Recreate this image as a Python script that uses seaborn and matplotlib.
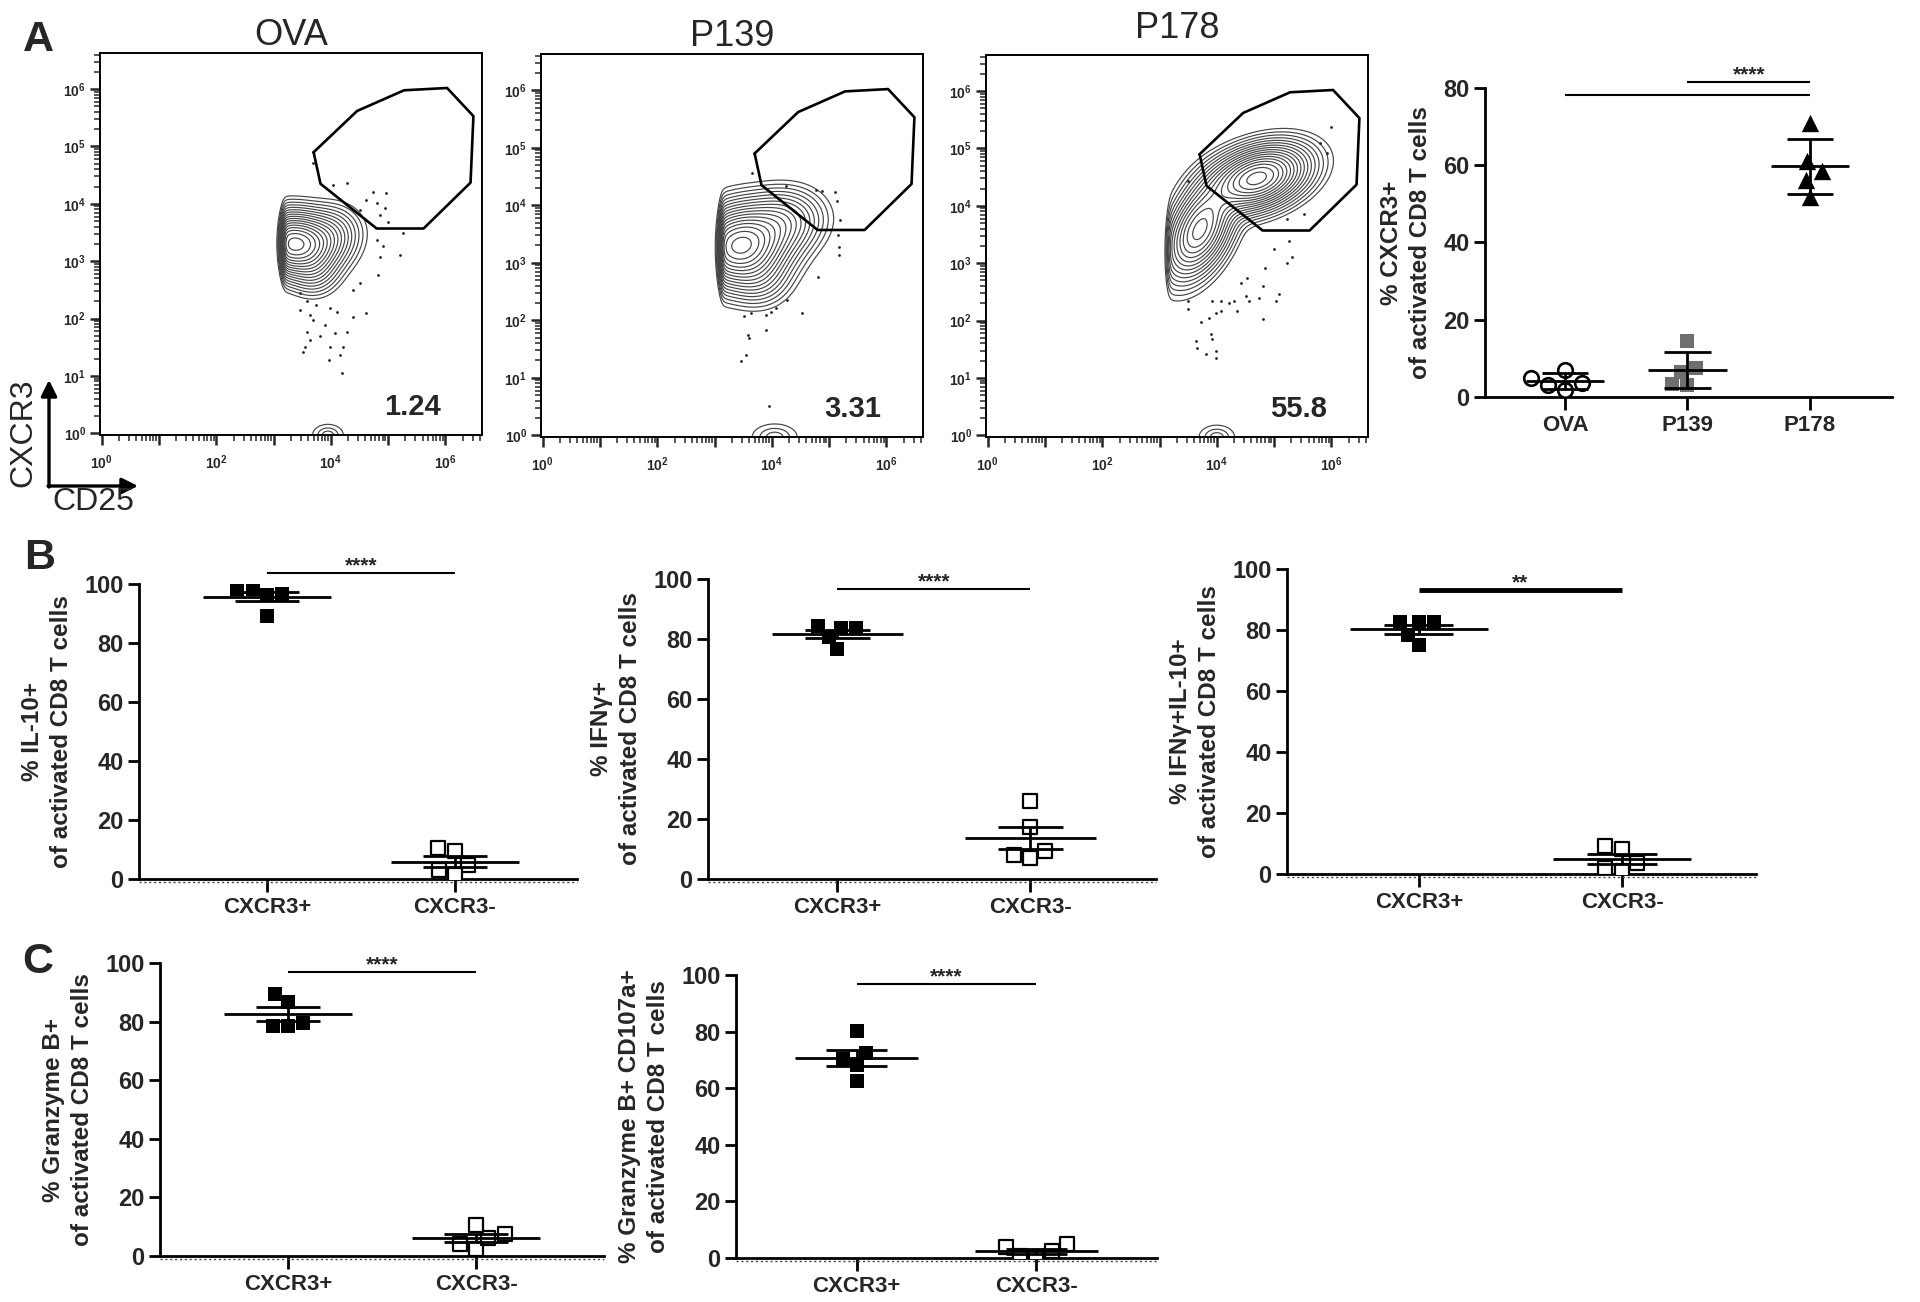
import numpy as np
import pandas as pd
import matplotlib
matplotlib.use("Agg")
import matplotlib.pyplot as plt
import matplotlib.transforms as mtransforms
from matplotlib.ticker import FixedLocator, NullFormatter
import seaborn as sns

sns.set_style("ticks")
plt.rcParams["font.family"] = ["Liberation Sans", "DejaVu Sans"]
plt.rcParams["mathtext.fontset"] = "custom"
plt.rcParams["mathtext.rm"] = "Liberation Sans"
plt.rcParams["mathtext.it"] = "Liberation Sans:italic"
plt.rcParams["mathtext.bf"] = "Liberation Sans:bold"

# ---------------- data ----------------
flow_samples = ["OVA", "P139", "P178"]
gate_pct = ["1.24", "3.31", "55.8"]
gate_log_x = [3.70, 4.46, 5.28, 6.03, 6.49, 6.44, 5.62, 4.80, 3.82]
gate_log_y = [4.90, 5.62, 5.98, 6.02, 5.53, 4.37, 3.57, 3.57, 4.35]

# populations (log10 units): centre x, centre y, sd x, sd y, correlation, weight
ova_cx, ova_cy = [3.36, 3.95, 3.70], [3.30, 3.45, 2.85]
ova_sx, ova_sy = [0.36, 0.28, 0.22], [0.27, 0.25, 0.22]
ova_rho, ova_w = [-0.05, 0.1, 0.0], [1.0, 0.14, 0.10]
ova_cut = 3.17
p139_cx, p139_cy = [3.45, 4.15, 3.75], [3.30, 3.70, 2.75]
p139_sx, p139_sy = [0.42, 0.36, 0.28], [0.34, 0.28, 0.25]
p139_rho, p139_w = [0.1, 0.1, 0.0], [1.0, 0.22, 0.10]
p139_cut = 3.12
p178_cx, p178_cy = [3.70, 4.70], [3.58, 4.48]
p178_sx, p178_sy = [0.30, 0.43], [0.42, 0.28]
p178_rho, p178_w = [0.45, 0.35], [0.62, 1.0]
p178_cut = 3.15
# small population on the bottom edge: centre x, sd x, sd y
low_cx = [3.95, 4.05, 4.00]
low_sx = [0.13, 0.19, 0.15]
low_sy = [0.09, 0.11, 0.10]

ova_dots_x = [4.04, 4.28, 4.74, 4.97, 4.62, 4.80, 4.94, 4.51, 4.86, 5.00, 5.26, 4.80, 4.92, 4.86, 5.21,
              4.83, 4.51, 4.39, 3.46, 3.58, 3.75, 3.98, 3.46, 4.10, 3.64, 4.62, 4.39, 3.69, 3.90, 4.07,
              3.58, 4.28, 3.64, 3.81, 3.98, 3.55, 3.52, 4.22, 4.16, 3.96, 4.19, 3.69]
ova_dots_y = [4.33, 4.37, 4.20, 4.19, 4.07, 4.01, 3.92, 3.90, 3.81, 3.69, 3.49, 3.37, 3.26, 3.08, 3.11,
              2.76, 2.62, 2.50, 2.44, 2.30, 2.24, 2.18, 2.15, 2.12, 2.06, 2.09, 2.03, 1.98, 1.89, 1.74,
              1.77, 1.77, 1.63, 1.69, 1.51, 1.51, 1.42, 1.51, 1.37, 1.28, 1.05, 4.71]
p139_dots_x = [3.66, 4.24, 4.77, 4.88, 5.10, 5.13, 5.19, 5.16, 5.17, 5.17, 4.80, 4.27, 4.07, 3.98, 3.90,
               3.63, 3.52, 4.53, 3.58, 3.60, 3.90, 3.55, 3.47, 3.95]
p139_dots_y = [4.56, 4.33, 4.27, 4.24, 4.23, 4.07, 3.75, 3.49, 3.28, 3.14, 2.76, 2.35, 2.21, 2.15, 2.09,
               2.12, 2.08, 2.12, 1.74, 1.70, 1.83, 1.40, 1.30, 0.51]
p178_dots_x = [5.99, 5.81, 5.93, 5.52, 5.23, 5.26, 5.00, 5.32, 5.23, 4.85, 4.53, 4.42, 4.80, 4.51, 4.74,
               5.09, 5.03, 4.56, 4.30, 4.22, 4.07, 3.92, 4.36, 4.07, 3.98, 3.50, 3.50, 4.80, 3.72, 3.87,
               3.90, 3.92, 3.63, 3.66, 3.81, 3.98, 3.98, 3.49]
p178_dots_y = [5.38, 5.10, 4.93, 3.85, 3.77, 3.39, 3.24, 3.10, 3.01, 2.92, 2.75, 2.66, 2.60, 2.43, 2.40,
               2.46, 2.34, 2.34, 2.34, 2.31, 2.34, 2.34, 2.17, 2.17, 2.14, 2.34, 2.21, 2.03, 1.97, 2.05,
               1.76, 1.67, 1.65, 1.53, 1.41, 1.47, 1.34, 4.44]

a_groups = ["OVA", "P139", "P178"]
a_ova = [7.1, 1.9, 4.9, 3.2, 3.6]
a_p139 = [14.4, 6.6, 3.2, 7.5, 3.3]
a_p178 = [70.9, 61.0, 58.4, 56.3, 51.9]

bc_groups = ["CXCR3+", "CXCR3-"]
il10_pos, il10_neg = [98.3, 96.6, 96.4, 98.3, 89.2], [10.5, 9.4, 4.9, 3.2, 1.5]
ifng_pos, ifng_neg = [84.2, 83.6, 83.6, 80.6, 76.6], [26.1, 17.5, 9.5, 6.9, 8.0]
dbl_pos, dbl_neg = [82.6, 82.6, 82.6, 78.5, 75.2], [9.1, 8.3, 3.6, 2.0, 0.9]
gzmb_pos, gzmb_neg = [89.5, 86.7, 78.5, 79.6, 78.5], [7.6, 2.5, 6.3, 10.5, 4.2]
cd107_pos, cd107_neg = [80.3, 70.3, 72.3, 68.2, 62.5], [4.8, 4.0, 0.2, 0.6, 2.4]

# ---------------- figure ----------------
W, H = 1920, 1302
fig = plt.figure(figsize=(W / 100, H / 100), dpi=100)


def rect(l, t, r, b):
    return [l / W, 1 - b / H, (r - l) / W, (b - t) / H]


gx = np.linspace(-0.3, 6.9, 480)
gy = np.linspace(-0.4, 6.9, 480)
GX, GY = np.meshgrid(gx, gy)


def gauss(cx, cy, sx, sy, rho):
    dx = (GX - cx) / sx
    dy = (GY - cy) / sy
    return np.exp(-(dx ** 2 - 2 * rho * dx * dy + dy ** 2) / (2 * (1 - rho ** 2)))


flow_rects = [rect(100, 53, 482, 435), rect(541, 54, 923, 437), rect(986, 55, 1368, 437)]
pops = [
    (ova_cx, ova_cy, ova_sx, ova_sy, ova_rho, ova_w, ova_cut, ova_dots_x, ova_dots_y),
    (p139_cx, p139_cy, p139_sx, p139_sy, p139_rho, p139_w, p139_cut, p139_dots_x, p139_dots_y),
    (p178_cx, p178_cy, p178_sx, p178_sy, p178_rho, p178_w, p178_cut, p178_dots_x, p178_dots_y),
]
title_pads = [5.0, 5.5, 12.0]
major = [10.0 ** k for k in range(7)]
minor = [m * 10.0 ** k for k in range(7) for m in range(2, 10) if m * 10.0 ** k < 10 ** 6.64]

for i, (r, p) in enumerate(zip(flow_rects, pops)):
    ax = fig.add_axes(r)
    cx, cy, sx, sy, rho, w, cut, dxs, dys = p
    Z = sum(wk * gauss(a, b, c, d, e) for a, b, c, d, e, wk in zip(cx, cy, sx, sy, rho, w))
    Z = Z / (1 + np.exp(-(GX - cut) / 0.025))
    levels = Z.max() * np.linspace(0.2, 0.975, 17) ** 3
    ax.contour(10 ** GX, 10 ** GY, Z, levels=levels, colors="#454545", linewidths=0.85)
    Zb = gauss(low_cx[i], -0.03, low_sx[i], low_sy[i], 0.0)
    ax.contour(10 ** GX, 10 ** GY, Zb, levels=[0.12, 0.4, 0.75], colors="#454545", linewidths=0.85)
    ax.scatter(10 ** np.array(dxs), 10 ** np.array(dys), s=4, c="#222222", linewidths=0, zorder=3)
    ax.plot(10 ** np.r_[gate_log_x, gate_log_x[0]], 10 ** np.r_[gate_log_y, gate_log_y[0]],
            color="black", lw=1.9, zorder=4)
    ax.text(10 ** 5.42, 10 ** 0.46, gate_pct[i], ha="center", va="center", fontsize=21, fontweight="bold")
    ax.set_xscale("log")
    ax.set_yscale("log")
    ax.set_xlim(10 ** -0.03, 10 ** 6.64)
    ax.set_ylim(10 ** -0.03, 10 ** 6.63)
    for axis in (ax.xaxis, ax.yaxis):
        axis.set_major_locator(FixedLocator(major))
        axis.set_minor_locator(FixedLocator(minor))
        axis.set_minor_formatter(NullFormatter())
    ax.set_xticklabels([rf"$\mathbf{{10^{{{k}}}}}$" if k % 2 == 0 else "" for k in range(7)])
    ax.set_yticklabels([rf"$\mathbf{{10^{{{k}}}}}$" for k in range(7)])
    ax.tick_params(which="major", length=7, width=1.8, labelsize=10, pad=3, direction="out")
    ax.tick_params(which="minor", length=4, width=1.1, direction="out")
    ax.tick_params(axis="x", which="major", pad=6)
    for s in ax.spines.values():
        s.set_linewidth(1.4)
        s.set_color("black")
    ax.set_title(flow_samples[i], fontsize=26, pad=title_pads[i])

# axis labels with arrows
fig.text(38 / W, 1 - 40 / H, "A", fontsize=31, fontweight="bold", ha="center", va="center")
fig.text(40 / W, 1 - 558 / H, "B", fontsize=31, fontweight="bold", ha="center", va="center")
fig.text(38 / W, 1 - 962 / H, "C", fontsize=31, fontweight="bold", ha="center", va="center")
arrow_kw = dict(arrowstyle="-|>", lw=2.4, color="black", mutation_scale=24, shrinkA=0, shrinkB=0)
fig.add_artist(matplotlib.patches.FancyArrowPatch((49 / W, 1 - 487 / H), (49 / W, 1 - 380 / H),
                                                  transform=fig.transFigure, **arrow_kw))
fig.add_artist(matplotlib.patches.FancyArrowPatch((48 / W, 1 - 486 / H), (138 / W, 1 - 486 / H),
                                                  transform=fig.transFigure, **arrow_kw))
fig.text(23 / W, 1 - 433 / H, "CXCR3", rotation=90, fontsize=23, ha="center", va="center")
fig.text(93 / W, 1 - 502 / H, "CD25", fontsize=23, ha="center", va="center")


# ---------------- dot plots ----------------
def dot_panel(ax, groups, values, styles, xlim, ylim, yticks, ylabel, err, mean_hw, cap_hw,
              dotted=True):
    df = pd.DataFrame({"group": np.repeat(groups, [len(v) for v in values]),
                       "value": np.concatenate(values)})
    for g, st in zip(groups, styles):
        sns.swarmplot(data=df[df["group"] == g], x="group", y="value", order=groups, ax=ax,
                      marker=st[0], size=st[1], color=st[2], edgecolor=st[3], linewidth=st[4],
                      zorder=3)
    for i, v in enumerate(values):
        v = np.asarray(v)
        m = v.mean()
        e = v.std(ddof=1)
        if err == "sem":
            e = e / np.sqrt(len(v))
        ax.hlines(m, i - mean_hw, i + mean_hw, color="black", lw=2.0, zorder=4)
        ax.hlines([m - e, m + e], i - cap_hw, i + cap_hw, color="black", lw=2.0, zorder=4)
        ax.vlines(i, m - e, m + e, color="black", lw=2.0, zorder=4)
    ax.set_xlim(*xlim)
    ax.set_ylim(*ylim)
    ax.set_yticks(yticks)
    ax.set_xlabel("")
    ax.set_ylabel(ylabel, fontsize=17.5, fontweight="bold", linespacing=1.35, labelpad=8)
    sns.despine(ax=ax)
    for s in ("left", "bottom"):
        ax.spines[s].set_linewidth(2.0)
        ax.spines[s].set_color("black")
    ax.tick_params(axis="y", length=8, width=2.0, labelsize=17, pad=3, color="black")
    ax.tick_params(axis="x", length=9, width=2.0, labelsize=16, pad=4, color="black")
    for lab in ax.get_xticklabels() + ax.get_yticklabels():
        lab.set_fontweight("bold")
    if dotted:
        tr = mtransforms.offset_copy(ax.transData, fig=fig, x=0, y=-3, units="dots")
        ax.plot(xlim, [0, 0], transform=tr, color="#444444", lw=1.0, ls=(0, (1.5, 2.0)),
                clip_on=False, zorder=2)


def sig_bar(ax, x0, x1, y, text, lw=1.5, show=True):
    ax.plot([x0, x1], [y, y], color="black", lw=lw, clip_on=False, solid_capstyle="butt")
    if show:
        ax.annotate(text, xy=((x0 + x1) / 2, y), xytext=(0, 1.0), textcoords="offset points",
                    ha="center", va="baseline", fontsize=15, fontweight="bold",
                    annotation_clip=False)


filled = ("s", 10.5, "black", "black", 0)
opened = ("s", 10, "white", "black", 1.6)

# A summary
axA = fig.add_axes(rect(1485, 88, 1892, 397))
dot_panel(axA, a_groups, [a_ova, a_p139, a_p178],
          [("o", 10.5, "white", "black", 1.9), ("s", 10.5, "#6f6f6f", "#6f6f6f", 0), ("^", 12.5, "black", "black", 0)],
          (-0.653, 2.67), (0, 80), [0, 20, 40, 60, 80], "% CXCR3+\nof activated CD8 T cells",
          "sd", 0.32, 0.19, dotted=False)
sig_bar(axA, 1, 2, 81.6, "****")
sig_bar(axA, 0, 2, 78.2, "", show=False)

panels = [
    (rect(139, 584, 577, 879), [il10_pos, il10_neg], "% IL-10+\nof activated CD8 T cells", (-0.68, 1.65), 103.7, "****", 1.5),
    (rect(708, 579, 1156, 879), [ifng_pos, ifng_neg], "% IFNγ+\nof activated CD8 T cells", (-0.67, 1.65), 96.8, "****", 1.5),
    (rect(1287, 569, 1756, 874), [dbl_pos, dbl_neg], "% IFNγ+IL-10+\nof activated CD8 T cells", (-0.65, 1.66), 93.2, "**", 3.5),
    (rect(160, 963, 604, 1256), [gzmb_pos, gzmb_neg], "% Granzyme B+\nof activated CD8 T cells", (-0.68, 1.68), 96.9, "****", 1.5),
    (rect(736, 975, 1157, 1258), [cd107_pos, cd107_neg], "% Granzyme B+ CD107a+\nof activated CD8 T cells", (-0.67, 1.67), 96.8, "****", 1.5),
]
for r, vals, lab, xl, sy_, st, lw in panels:
    ax = fig.add_axes(r)
    dot_panel(ax, bc_groups, vals, [filled, opened], xl, (0, 100), [0, 20, 40, 60, 80, 100], lab,
              "sem", 0.34, 0.17)
    sig_bar(ax, 0, 1, sy_, st, lw=lw)

fig.savefig("out.png", dpi=100)
